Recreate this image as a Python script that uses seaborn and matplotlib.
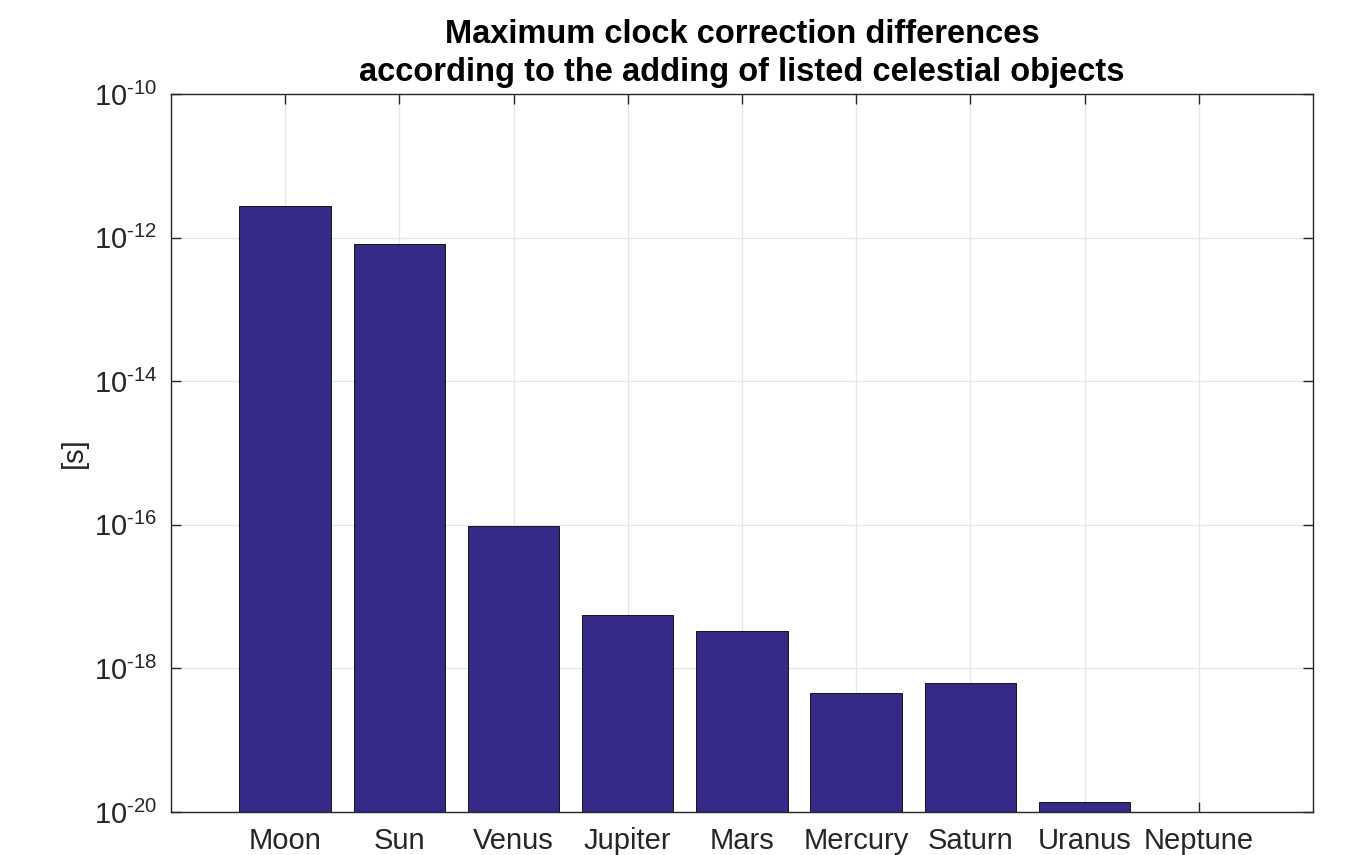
import math
import matplotlib
matplotlib.use("Agg")
import matplotlib.pyplot as plt
import matplotlib.ticker as mticker
import seaborn as sns
import pandas as pd

# Maximum clock-correction difference caused by adding each body [s]
bodies = ["Moon", "Sun", "Venus", "Jupiter", "Mars", "Mercury", "Saturn", "Uranus", "Neptune"]
max_diff = [2.78e-12, 8.15e-13, 9.6e-17, 5.55e-18, 3.35e-18, 4.5e-19, 6.2e-19, 1.36e-20, 4.0e-21]

y_ticks = [1e-20, 1e-18, 1e-16, 1e-14, 1e-12, 1e-10]
title_lines = ["Maximum clock correction differences",
               "according to the adding of listed celestial objects"]

bar_color = "#352a87"
axis_color = "#262626"

sns.set_style("ticks")
plt.rcParams["font.family"] = ["Liberation Sans", "DejaVu Sans"]
plt.rcParams["mathtext.fontset"] = "custom"
plt.rcParams["mathtext.rm"] = "Liberation Sans"
plt.rcParams["mathtext.it"] = "Liberation Sans:italic"
plt.rcParams["mathtext.bf"] = "Liberation Sans:bold"

df = pd.DataFrame({"body": bodies, "diff": max_diff})

fig = plt.figure(figsize=(13.6, 8.55), dpi=100)
ax = fig.add_axes([0.1257, 0.0503, 0.8397, 0.8398])

ax.set_yscale("log")
sns.barplot(data=df, x="body", y="diff", ax=ax, color=bar_color, width=0.8,
            edgecolor="black", linewidth=0.6, saturation=1, zorder=2)

ax.set_ylim(1e-20, 1e-10)
ax.set_xlim(-1, 9)


def power_label(v, _):
    exp = round(math.log10(v))
    sign = "\u2010" if exp < 0 else ""
    return r"$\mathregular{10^{%s%d}}$" % (sign, abs(exp))


ax.yaxis.set_major_locator(mticker.FixedLocator(y_ticks))
ax.yaxis.set_minor_locator(mticker.NullLocator())
ax.yaxis.set_major_formatter(mticker.FuncFormatter(power_label))

ax.grid(True, which="major", color="#e6e6e6", linewidth=0.9, zorder=0)
ax.set_axisbelow(True)

for side in ["top", "right", "left", "bottom"]:
    ax.spines[side].set_visible(True)
    ax.spines[side].set_color(axis_color)
    ax.spines[side].set_linewidth(1.0)

ax.tick_params(axis="both", which="major", direction="in", length=7,
               width=1.0, color=axis_color, labelcolor=axis_color,
               labelsize=21, top=True, right=True)
ax.tick_params(axis="x", pad=11)
ax.tick_params(axis="y", pad=10)

ax.set_xlabel("")
ax.set_ylabel("[s]", fontsize=21, color=axis_color, labelpad=4)
ax.set_title("\n".join(title_lines), fontsize=23.5, fontweight="bold",
             color="black", pad=9, linespacing=1.3)

fig.savefig("out.png", dpi=100)
